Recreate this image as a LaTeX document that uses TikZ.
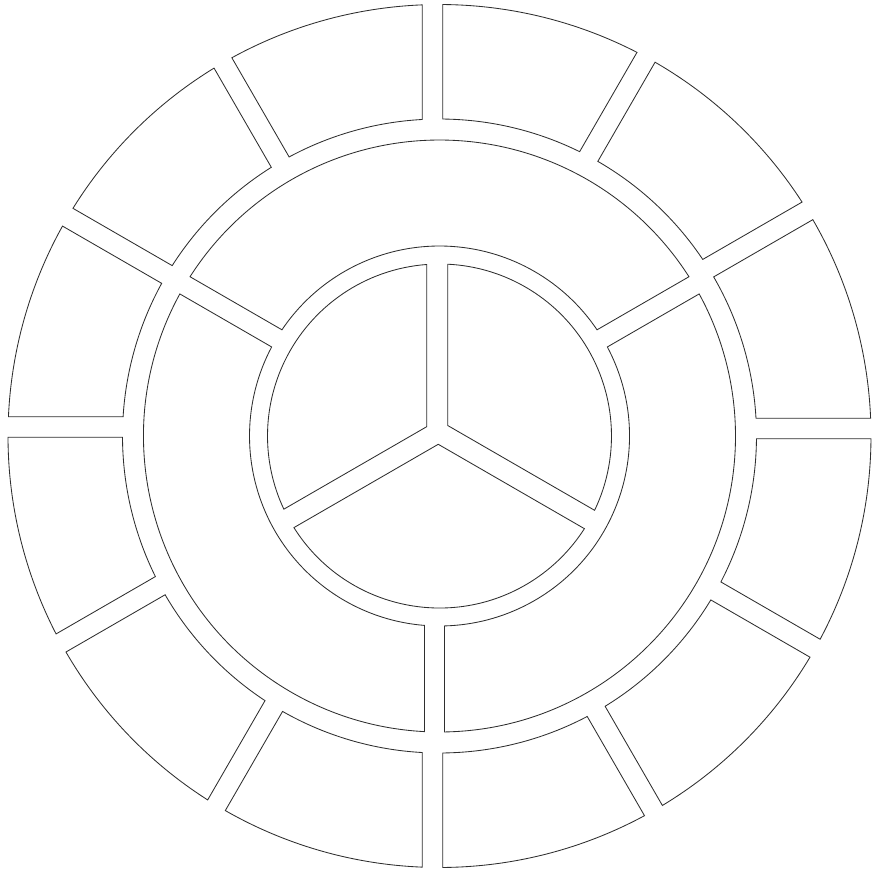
\documentclass[tikz,border=0pt]{standalone}
\newcommand{\ringsegment}[7]{% rin, rout, th1, s1, th2, s2, g
  \pgfmathsetmacro{\segAA}{#4+#7}%
  \pgfmathsetmacro{\segBB}{#6-#7}%
  \pgfmathsetmacro{\segOA}{#3+asin(\segAA/#2)}%
  \pgfmathsetmacro{\segOB}{#5+asin(\segBB/#2)}%
  \pgfmathsetmacro{\segIA}{#3+asin(\segAA/#1)}%
  \pgfmathsetmacro{\segIB}{#5+asin(\segBB/#1)}%
  \draw[seg] (\segOA:#2pt) arc[start angle=\segOA, end angle=\segOB, radius=#2pt]
    -- (\segIB:#1pt) arc[start angle=\segIB, end angle=\segIA, radius=#1pt] -- cycle;
}
\newcommand{\piesegment}[6]{% r, th1, s1, th2, s2, g
  \pgfmathsetmacro{\segAA}{#3+#6}%
  \pgfmathsetmacro{\segBB}{#5-#6}%
  \pgfmathsetmacro{\segDet}{sin(#4-#2)}%
  \pgfmathsetmacro{\segX}{(\segAA*cos(#4) - \segBB*cos(#2))/\segDet}%
  \pgfmathsetmacro{\segY}{((-sin(#2))*\segBB + sin(#4)*\segAA)/\segDet}%
  \pgfmathsetmacro{\segOA}{#2+asin(\segAA/#1)}%
  \pgfmathsetmacro{\segOB}{#4+asin(\segBB/#1)}%
  \draw[seg] (\segX,\segY) -- (\segOA:#1pt) arc[start angle=\segOA, end angle=\segOB, radius=#1pt] -- cycle;
}
\begin{document}
\begin{tikzpicture}[x=1pt,y=1pt,
  seg/.style={draw=black!82, line width=0.85pt, line join=miter}]
\useasboundingbox (-439.5,-435) rectangle (435.5,436);
% outer ring: 12 segments
\foreach \ta/\sa/\tb/\sb in {0/7.5/30/11, 30/11/60/10.5, 60/10.5/90/7, 90/7/120/1,
  120/1/150/-3.6, 150/-3.6/180/-9, 180/-9/210/-10, 210/-10/240/-8.5,
  240/-8.5/270/-7, 270/-7/300/-2, 300/-2/330/4, 330/4/360/7.5}{
  \ringsegment{317}{431.5}{\ta}{\sa}{\tb}{\sb}{10.3}
}
% middle ring: 3 segments
\foreach \ta/\sa/\tb/\sb in {30/3.2/150/-3.2, 150/-3.2/270/-5, 270/-5/390/3.2}{
  \ringsegment{190}{296}{\ta}{\sa}{\tb}{\sb}{10}
}
% inner disc: 3 pieces
\foreach \ta/\sa/\tb/\sb in {90/2.3/210/-3.95, 210/-3.95/330/2.7, 330/2.7/450/2.3}{
  \piesegment{172}{\ta}{\sa}{\tb}{\sb}{10.5}
}
\end{tikzpicture}
\end{document}
